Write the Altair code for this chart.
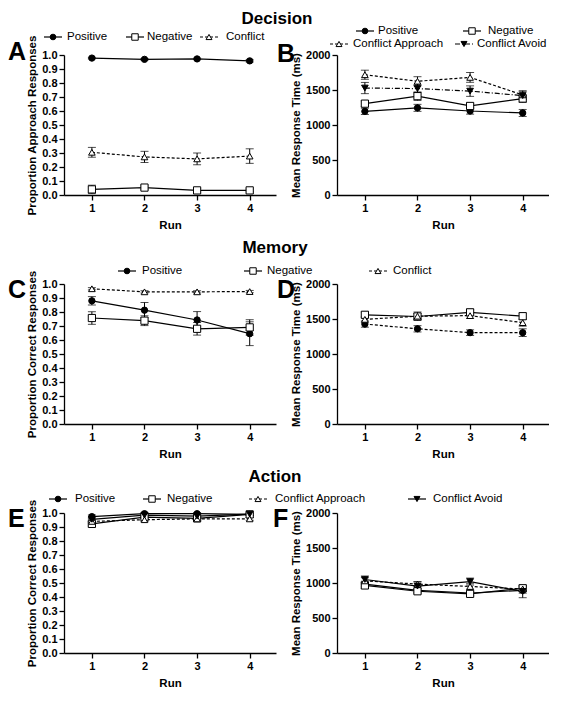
import altair as alt
import pandas as pd

RUNS = [1, 2, 3, 4]

# Decision - proportion approach responses (A)
A_POS = [0.978, 0.969, 0.972, 0.958]
A_POS_ERR = [0.006, 0.006, 0.006, 0.008]
A_NEG = [0.040, 0.053, 0.033, 0.033]
A_NEG_ERR = [0.030, 0.012, 0.012, 0.010]
A_CON = [0.305, 0.272, 0.258, 0.278]
A_CON_ERR = [0.035, 0.040, 0.042, 0.052]

# Decision - mean RT (B)
B_POS = [1195, 1245, 1200, 1172]
B_POS_ERR = [45, 50, 45, 50]
B_NEG = [1305, 1412, 1272, 1378]
B_NEG_ERR = [40, 60, 40, 55]
B_CA = [1718, 1625, 1680, 1430]
B_CA_ERR = [65, 65, 70, 60]
B_CAV = [1528, 1520, 1484, 1420]
B_CAV_ERR = [80, 55, 75, 55]

# Memory - proportion correct (C)
C_POS = [0.880, 0.813, 0.743, 0.645]
C_POS_ERR = [0.030, 0.055, 0.060, 0.085]
C_NEG = [0.757, 0.738, 0.680, 0.690]
C_NEG_ERR = [0.045, 0.035, 0.045, 0.055]
C_CON = [0.966, 0.944, 0.944, 0.946]
C_CON_ERR = [0.008, 0.008, 0.008, 0.008]

# Memory - mean RT (D)
D_POS = [1428, 1360, 1305, 1305]
D_POS_ERR = [45, 45, 40, 55]
D_NEG = [1560, 1536, 1595, 1540]
D_NEG_ERR = [40, 40, 45, 45]
D_CON = [1495, 1540, 1548, 1448]
D_CON_ERR = [40, 60, 40, 50]

# Action - proportion correct (E)
E_POS = [0.974, 0.995, 0.995, 0.990]
E_POS_ERR = [0.012, 0.008, 0.008, 0.008]
E_NEG = [0.922, 0.970, 0.962, 0.990]
E_NEG_ERR = [0.015, 0.010, 0.010, 0.008]
E_CA = [0.940, 0.952, 0.958, 0.958]
E_CA_ERR = [0.012, 0.012, 0.010, 0.010]
E_CAV = [0.955, 0.985, 0.978, 0.992]
E_CAV_ERR = [0.015, 0.010, 0.010, 0.008]

# Action - mean RT (F)
F_POS = [985, 895, 857, 895]
F_POS_ERR = [40, 30, 30, 40]
F_NEG = [965, 882, 845, 925]
F_NEG_ERR = [40, 30, 30, 35]
F_CA = [1030, 985, 950, 915]
F_CA_ERR = [45, 35, 40, 35]
F_CAV = [1050, 955, 1020, 880]
F_CAV_ERR = [50, 60, 50, 90]

PROP_TICKS = [round(i * 0.1, 1) for i in range(11)]
RT_TICKS = [0, 500, 1000, 1500, 2000]

FONT = "Liberation Sans"
XDOM = [0.47, 4.5]
W, H = 212, 140

STYLE = {
    "Positive": dict(shape="circle", fill="black", size=40),
    "Negative": dict(shape="square", fill="white", size=52),
    "Conflict": dict(shape="triangle-up", fill="white", size=44),
    "Conflict Approach": dict(shape="triangle-up", fill="white", size=44),
    "Conflict Avoid": dict(shape="triangle-down", fill="black", size=44),
}
DASH = [3, 2]
DASH_DOT = [5, 2, 1, 2]


def one():
    return pd.DataFrame({"k": [0]})


def text_layer(txt, x, y, size, weight="normal", align="left", baseline="middle"):
    return alt.Chart(one()).mark_text(
        text=txt, font=FONT, fontSize=size, fontWeight=weight,
        align=align, baseline=baseline, color="black"
    ).encode(x=alt.value(x), y=alt.value(y))


def legend_item(name, mx, tx, y, dash):
    st = STYLE[name]
    rk = dict(color="black", strokeWidth=1.2)
    if dash:
        rk["strokeDash"] = dash
    return [
        alt.Chart(one()).mark_rule(**rk).encode(
            x=alt.value(mx - 9), x2=alt.value(mx + 9), y=alt.value(y)),
        alt.Chart(one()).mark_point(
            shape=st["shape"], filled=True, fill=st["fill"], stroke="black",
            strokeWidth=1, size=st["size"] * 0.8, opacity=1
        ).encode(x=alt.value(mx), y=alt.value(y)),
        text_layer(name, tx, y, 11.5),
    ]


def panel(series, ydom, yvals, yfmt, ytitle, extras):
    X = alt.X("run:Q", scale=alt.Scale(domain=XDOM, nice=False, zero=False),
              axis=alt.Axis(values=RUNS, format="d", title="Run", titlePadding=6))
    ys = alt.Scale(domain=ydom, nice=False, zero=False)
    ya = alt.Axis(values=yvals, format=yfmt, title=ytitle, labelOverlap=False)
    back, front = [], []
    for name, vals, errs, dash in series:
        df = pd.DataFrame({
            "run": RUNS, "val": vals,
            "lo": [v - e for v, e in zip(vals, errs)],
            "hi": [v + e for v, e in zip(vals, errs)],
        })
        base = alt.Chart(df)
        back.append(base.mark_rule(color="black", strokeWidth=1).encode(
            x=X, y=alt.Y("lo:Q", scale=ys, axis=ya), y2="hi:Q"))
        for f in ("lo", "hi"):
            back.append(base.mark_tick(color="black", orient="horizontal",
                                       size=8, thickness=1).encode(
                x=X, y=alt.Y(f + ":Q", scale=ys, axis=ya)))
        lk = dict(color="black", strokeWidth=1.2)
        if dash:
            lk["strokeDash"] = dash
        back.append(base.mark_line(**lk).encode(
            x=X, y=alt.Y("val:Q", scale=ys, axis=ya)))
        st = STYLE[name]
        front.append(base.mark_point(
            shape=st["shape"], filled=True, fill=st["fill"], stroke="black",
            strokeWidth=1, size=st["size"], opacity=1
        ).encode(x=X, y=alt.Y("val:Q", scale=ys, axis=ya)))
    return alt.layer(*back, *front, *extras).properties(width=W, height=H)


# ---------------- Row 1: Decision
extrasA = [text_layer("Decision", 213, -31, 17, "bold", "center", "alphabetic"),
           text_layer("A", -56, 5, 25, "bold", "left", "alphabetic")]
extrasA += legend_item("Positive", -11, 3, -18, None)
extrasA += legend_item("Negative", 71, 83, -18, None)
extrasA += legend_item("Conflict", 145, 162, -18, DASH)
pA = panel([
    ("Positive", A_POS, A_POS_ERR, None),
    ("Negative", A_NEG, A_NEG_ERR, None),
    ("Conflict", A_CON, A_CON_ERR, DASH),
], [0, 1], PROP_TICKS, ".1f", "Proportion Approach Responses", extrasA)

extrasB = [text_layer("B", -60, 7, 25, "bold", "left", "alphabetic")]
extrasB += legend_item("Positive", 28, 41, -24, None)
extrasB += legend_item("Negative", 135, 151, -24, None)
extrasB += legend_item("Conflict Approach", 2, 16, -11, DASH)
extrasB += legend_item("Conflict Avoid", 127, 140, -11, DASH_DOT)
pB = panel([
    ("Positive", B_POS, B_POS_ERR, None),
    ("Negative", B_NEG, B_NEG_ERR, None),
    ("Conflict Approach", B_CA, B_CA_ERR, DASH),
    ("Conflict Avoid", B_CAV, B_CAV_ERR, DASH_DOT),
], [0, 2000], RT_TICKS, "d", "Mean Response Time (ms)", extrasB)

# ---------------- Row 2: Memory
extrasC = [text_layer("Memory", 211, -31, 17, "bold", "center", "alphabetic"),
           text_layer("C", -56, 14, 25, "bold", "left", "alphabetic")]
extrasC += legend_item("Positive", 63, 78, -13, None)
extrasC += legend_item("Negative", 189, 203, -13, None)
extrasC += legend_item("Conflict", 314, 329, -13, DASH)
pC = panel([
    ("Positive", C_POS, C_POS_ERR, None),
    ("Negative", C_NEG, C_NEG_ERR, None),
    ("Conflict", C_CON, C_CON_ERR, DASH),
], [0, 1], PROP_TICKS, ".1f", "Proportion Correct Responses", extrasC)

extrasD = [text_layer("D", -60, 14, 25, "bold", "left", "alphabetic")]
pD = panel([
    ("Positive", D_POS, D_POS_ERR, DASH),
    ("Negative", D_NEG, D_NEG_ERR, None),
    ("Conflict", D_CON, D_CON_ERR, DASH),
], [0, 2000], RT_TICKS, "d", "Mean Response Time (ms)", extrasD)

# ---------------- Row 3: Action
extrasE = [text_layer("Action", 211, -31, 17, "bold", "center", "alphabetic"),
           text_layer("E", -56, 14, 25, "bold", "left", "alphabetic")]
extrasE += legend_item("Positive", -6, 11, -14, None)
extrasE += legend_item("Negative", 88, 103, -14, None)
extrasE += legend_item("Conflict Approach", 194, 211, -14, DASH)
extrasE += legend_item("Conflict Avoid", 353, 369, -14, None)
pE = panel([
    ("Positive", E_POS, E_POS_ERR, None),
    ("Negative", E_NEG, E_NEG_ERR, None),
    ("Conflict Approach", E_CA, E_CA_ERR, DASH),
    ("Conflict Avoid", E_CAV, E_CAV_ERR, None),
], [0, 1], PROP_TICKS, ".1f", "Proportion Correct Responses", extrasE)

extrasF = [text_layer("F", -64, 14, 25, "bold", "left", "alphabetic")]
pF = panel([
    ("Positive", F_POS, F_POS_ERR, None),
    ("Negative", F_NEG, F_NEG_ERR, None),
    ("Conflict Approach", F_CA, F_CA_ERR, DASH),
    ("Conflict Avoid", F_CAV, F_CAV_ERR, None),
], [0, 2000], RT_TICKS, "d", "Mean Response Time (ms)", extrasF)

chart = alt.ConcatChart(
    concat=[pA, pB, pC, pD, pE, pF], columns=2,
    spacing=alt.RowColnumber(row=89, column=61), bounds="flush",
).properties(
    padding={"top": 2, "left": 0, "right": 0, "bottom": 0}
).configure_axis(
    domainColor="black", tickColor="black", labelColor="black", titleColor="black",
    grid=False, labelFont=FONT, titleFont=FONT, labelFontWeight="bold",
    titleFontWeight="bold", labelFontSize=11, titleFontSize=11.5,
    domainWidth=1.3, tickWidth=1.3, tickSize=5, labelPadding=2,
).configure_view(stroke=None)

chart.save("out.html", embed_options={"renderer": "svg", "actions": False})
